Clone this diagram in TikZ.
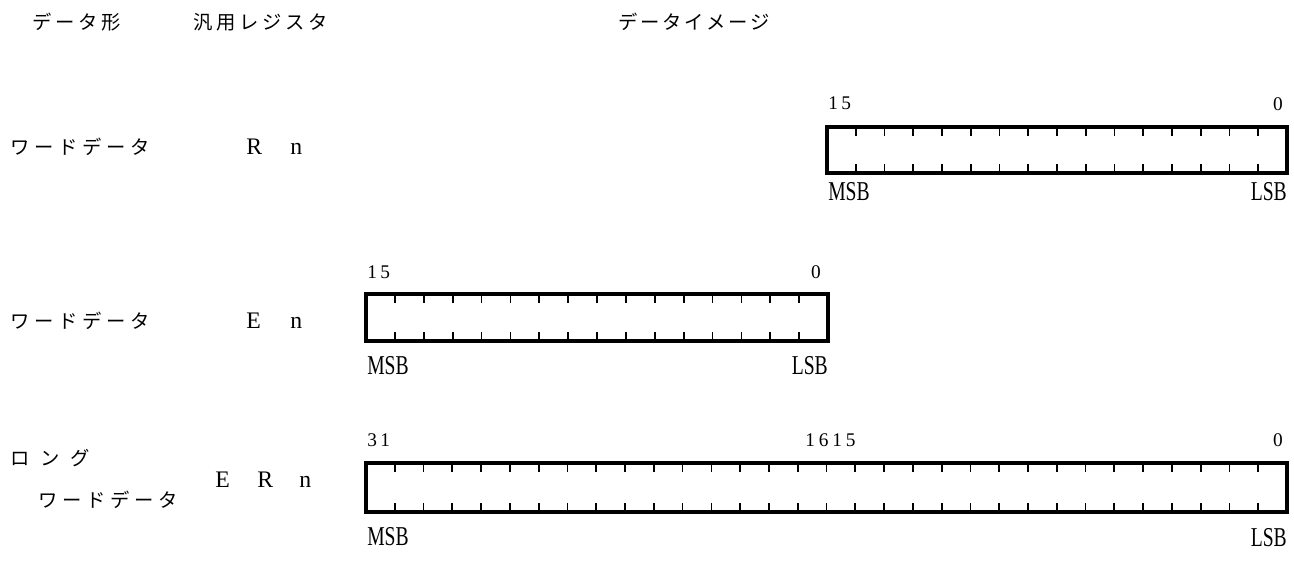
\documentclass[tikz,border=0pt]{standalone}
\usepackage{fontspec}
\setmainfont{Liberation Serif}
\newfontfamily\jp{Noto Sans CJK JP}
\makeatletter
\newcommand\spc[2]{\def\spc@w{#1}\spc@loop#2\relax}
\def\spc@loop#1{\ifx#1\relax\else\makebox[\spc@w][l]{#1}\expandafter\spc@loop\fi}
\makeatother
\newcommand\drawreg[6]{%
  \draw[regframe] (#1,#2) rectangle (#3,#4);
  \coordinate (#6) at (#1,#2);
  \foreach \i in {1,...,\numexpr#5-1\relax}{%
    \pgfmathsetmacro\xx{#1+(#3-#1)/#5*\i}
    \draw[bittick] (\xx,#2) -- ++(0,9);
    \draw[bittick] (\xx,#4) -- ++(0,-9);
  }}
\begin{document}
\begin{tikzpicture}[x=0.02cm,y=-0.02cm,
  jplabel/.style={anchor=west,inner sep=0pt,font=\jp\fontsize{11}{12}\selectfont},
  reglabel/.style={anchor=west,inner sep=0pt,font=\fontsize{13.5}{14}\selectfont},
  bitnum/.style={inner sep=0pt,font=\fontsize{11}{12}\selectfont},
  sblabel/.style={inner sep=0pt,font=\fontsize{15.5}{16}\selectfont,xscale=0.72},
  regframe/.style={line width=1.8pt},
  bittick/.style={line width=1pt}]
\useasboundingbox (0,0) rectangle (1294,563);
% headers
\node[jplabel] (hType) at (32,22) {\spc{0.46cm}{データ形}};
\node[jplabel] (hReg) at (193,22) {\spc{0.46cm}{汎用レジスタ}};
\node[jplabel] (hImg) at (618,22) {\spc{0.44cm}{データイメージ}};
% row labels
\node[jplabel] (t1) at (10,147) {\spc{0.48cm}{ワードデータ}};
\node[jplabel] (t2) at (10,321) {\spc{0.48cm}{ワードデータ}};
\node[jplabel] (t3a) at (10,458) {\spc{0.6cm}{ロング}};
\node[jplabel] (t3b) at (38,500) {\spc{0.48cm}{ワードデータ}};
\node[reglabel] (r1) at (246,147) {\spc{0.88cm}{Rn}};
\node[reglabel] (r2) at (246,321) {\spc{0.88cm}{En}};
\node[reglabel] (r3) at (215,480) {\spc{0.84cm}{ERn}};
% registers
\drawreg{827}{127}{1287}{173}{16}{b1}
\drawreg{366}{294}{828}{341}{16}{b2}
\drawreg{366}{463}{1287}{512}{32}{b3}
% bit numbers
\node[bitnum,anchor=west] (n1a) at (828,103) {\spc{0.26cm}{15}};
\node[bitnum] (n1b) at (1278,104) {0};
\node[bitnum,anchor=west] (n2a) at (367,272) {\spc{0.26cm}{15}};
\node[bitnum] (n2b) at (816,272) {0};
\node[bitnum,anchor=west] (n3a) at (367,440) {\spc{0.26cm}{31}};
\node[bitnum,anchor=west] (n3m) at (805,440) {\spc{0.27cm}{1615}};
\node[bitnum] (n3b) at (1278,440) {0};
% MSB / LSB
\node[sblabel,anchor=west] (m1) at (828,192) {MSB};
\node[sblabel,anchor=east] (l1) at (1287,192) {LSB};
\node[sblabel,anchor=west] (m2) at (367,366) {MSB};
\node[sblabel,anchor=east] (l2) at (828,366) {LSB};
\node[sblabel,anchor=west] (m3) at (367,537) {MSB};
\node[sblabel,anchor=east] (l3) at (1287,538) {LSB};
\end{tikzpicture}
\end{document}
